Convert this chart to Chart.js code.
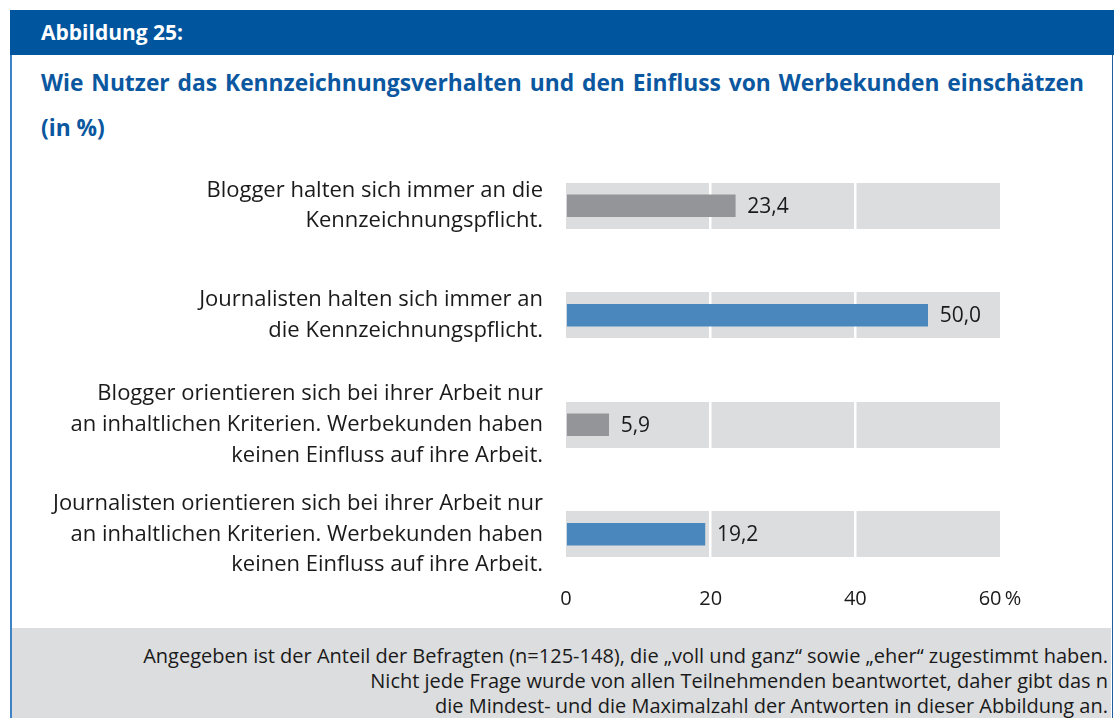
<!DOCTYPE html>
<html lang="de">
<head>
  <meta charset="UTF-8">
  <title>Abbildung 25</title>
  <script src="https://cdn.jsdelivr.net/npm/chart.js@4.4.1/dist/chart.umd.min.js"></script>
  <style>
    body { margin: 0; width: 1120px; height: 718px; position: relative; background: #fff; font-family: "Open Sans", sans-serif; overflow: hidden; }
    .frame { position: absolute; left: 10px; top: 10px; width: 1100px; height: 708px; border-left: 2px solid #3f82c5; border-right: 1px solid #1f5f9f; }
    .head { position: absolute; left: 10px; top: 10px; width: 1104px; height: 45px; background: #00559f; color: #fff; font-weight: bold; font-size: 21px; line-height: 45px; }
    .head span { margin-left: 31px; }
    .title { position: absolute; left: 41px; top: 60px; width: 1043px; color: #0b57a0; font-weight: bold; font-size: 22.8px; line-height: 45px; }
    .title div:first-child { text-align: justify; text-align-last: justify; }
    .foot { position: absolute; left: 12px; top: 628px; width: 1096px; height: 90px; background: #dcdddf; color: #1a1a1a; font-size: 20px; line-height: 25px; text-align: right; padding-right: 3px; box-sizing: content-box; }
    .foot div:first-child { margin-top: 15px; }
    canvas { position: absolute; left: 0; top: 140px; }
  </style>
</head>
<body>
  <div class="frame"></div>
  <div class="head"><span>Abbildung 25:</span></div>
  <div class="title">
    <div>Wie Nutzer das Kennzeichnungsverhalten und den Einfluss von Werbekunden einschätzen</div>
    <div>(in %)</div>
  </div>
  <div class="foot">
    <div>Angegeben ist der Anteil der Befragten (n=125-148), die „voll und ganz“ sowie „eher“ zugestimmt haben.</div>
    <div>Nicht jede Frage wurde von allen Teilnehmenden beantwortet, daher gibt das n</div>
    <div>die Mindest- und die Maximalzahl der Antworten in dieser Abbildung an.</div>
  </div>
  <canvas id="chart" width="1120" height="480"></canvas>

  <script>
    const categories = [
      ['Blogger halten sich immer an die', 'Kennzeichnungspflicht.'],
      ['Journalisten halten sich immer an', 'die Kennzeichnungspflicht.'],
      ['Blogger orientieren sich bei ihrer Arbeit nur', 'an inhaltlichen Kriterien. Werbekunden haben', 'keinen Einfluss auf ihre Arbeit.'],
      ['Journalisten orientieren sich bei ihrer Arbeit nur', 'an inhaltlichen Kriterien. Werbekunden haben', 'keinen Einfluss auf ihre Arbeit.']
    ];
    const values = [23.4, 50.0, 5.9, 19.2];
    const barColors = ['#939598', '#4a87bd', '#939598', '#4a87bd'];
    const axisTicks = [0, 20, 40, 60];

    // grey background bands behind each bar, drawn before grid lines
    const bandPlugin = {
      id: 'bands',
      beforeDraw(chart) {
        const ctx = chart.ctx, x = chart.scales.x, y = chart.scales.y;
        const x0 = x.getPixelForValue(x.min), x1 = x.getPixelForValue(x.max);
        const h = 46;
        ctx.save();
        ctx.fillStyle = '#dcdddf';
        categories.forEach((c, i) => {
          const yc = y.getPixelForValue(i);
          ctx.fillRect(x0, Math.round(yc - h / 2), x1 - x0, h);
        });
        ctx.restore();
      }
    };

    const valuePlugin = {
      id: 'values',
      afterDatasetsDraw(chart) {
        const ctx = chart.ctx;
        ctx.save();
        ctx.font = '21px "Open Sans"';
        ctx.fillStyle = '#1a1a1a';
        ctx.textBaseline = 'middle';
        chart.getDatasetMeta(0).data.forEach((bar, i) => {
          ctx.fillText(values[i].toFixed(1).replace('.', ','), bar.x + 12, bar.y + 1);
        });
        ctx.restore();
      }
    };

    new Chart(document.getElementById('chart'), {
      type: 'bar',
      data: {
        labels: categories,
        datasets: [{
          data: values,
          backgroundColor: barColors,
          barThickness: 22
        }]
      },
      options: {
        indexAxis: 'y',
        responsive: false,
        animation: false,
        devicePixelRatio: 1,
        events: [],
        layout: { padding: { top: 11, right: 120, bottom: 0, left: 0 } },
        scales: {
          x: {
            min: axisTicks[0],
            max: axisTicks[axisTicks.length - 1],
            afterBuildTicks: s => { s.ticks = axisTicks.map(v => ({ value: v })); },
            ticks: {
              padding: -2,
              color: '#1a1a1a',
              font: { family: 'Open Sans', size: 20 },
              callback: v => v === 60 ? '60\u2009%' : v
            },
            grid: {
              drawTicks: false,
              lineWidth: 2.5,
              color: c => (c.tick && (c.tick.value === 20 || c.tick.value === 40)) ? '#ffffff' : 'rgba(0,0,0,0)'
            },
            border: { display: false },
            afterFit: s => { s.height = 31; s.paddingLeft = 0; s.paddingRight = 0; }
          },
          y: {
            ticks: {
              padding: 23,
              color: '#1a1a1a',
              font: { family: 'Open Sans', size: 22, lineHeight: 1.39 }
            },
            grid: { display: false, drawTicks: false },
            border: { display: false },
            afterFit: s => { s.width = 566; s.paddingTop = 0; s.paddingBottom = 0; }
          }
        },
        plugins: {
          legend: { display: false },
          tooltip: { enabled: false }
        }
      },
      plugins: [bandPlugin, valuePlugin]
    });
  </script>
</body>
</html>
